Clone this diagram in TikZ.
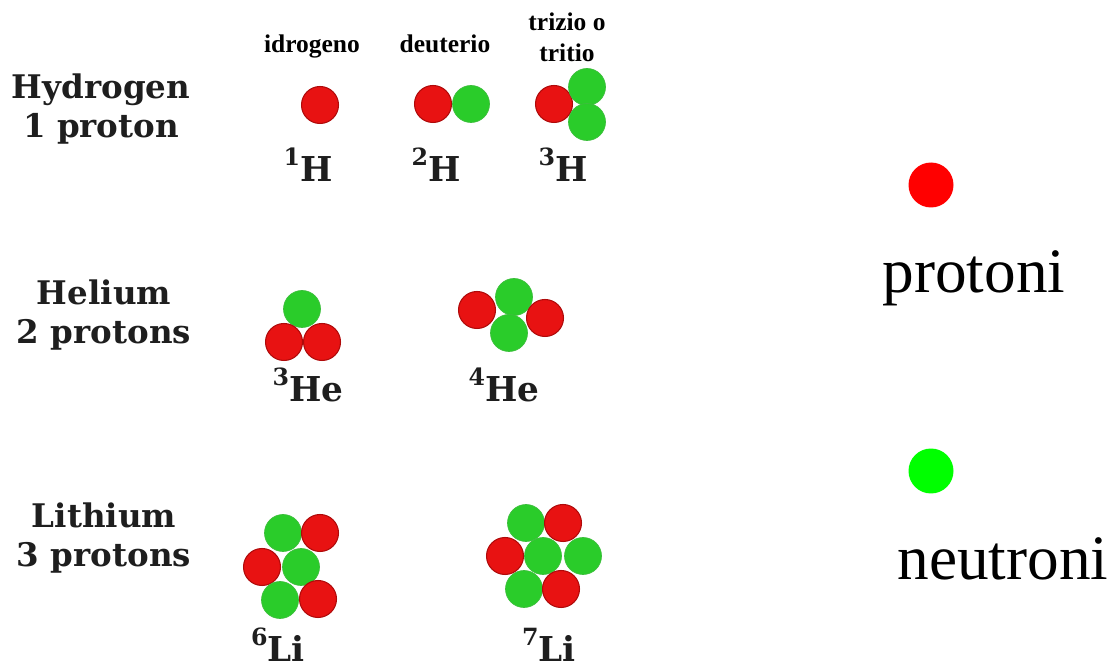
\documentclass[tikz,border=0pt]{standalone}
\usepackage{fontspec}
\setmainfont{Liberation Serif}
\newfontfamily\slabfont{DejaVu Serif}
\usepackage{xcolor}
\usetikzlibrary{positioning}

\definecolor{atomred}{RGB}{232,18,18}
\definecolor{atomgreen}{RGB}{42,204,42}
\definecolor{edgered}{RGB}{175,10,10}
\definecolor{edgegreen}{RGB}{60,190,60}
\definecolor{labelgray}{RGB}{30,30,30}

% isotope symbol with mass number
\newcommand{\isosym}[2]{\raisebox{9.3pt}{\fontsize{13.5}{14}\selectfont #1}#2}

\begin{document}
\begin{tikzpicture}[
    x=0.02cm, y=-0.02cm,
    proton/.style={circle, fill=atomred, draw=edgered, line width=0.6pt,
      inner sep=0pt, minimum size=0.74cm},
    neutron/.style={circle, fill=atomgreen, draw=edgegreen, line width=0.4pt,
      inner sep=0pt, minimum size=0.74cm},
    element/.style={font=\slabfont\bfseries\fontsize{18.5}{22.7}\selectfont,
      text=labelgray, align=center, inner sep=0pt, anchor=base},
    isotope/.style={font=\slabfont\bfseries\fontsize{19.5}{24}\selectfont,
      text=labelgray, inner sep=0pt, anchor=base},
    italname/.style={font=\bfseries\fontsize{14.5}{18}\selectfont,
      align=center, inner sep=0pt, anchor=base},
    legend/.style={font=\fontsize{36}{40}\selectfont, inner sep=0pt, anchor=base},
    legdot/.style={circle, inner sep=0pt, minimum size=0.9cm}
  ]
  \useasboundingbox (0,0) rectangle (1116,668);

  % element names
  \node[element] (hydro) at (101,138) {Hydrogen\\1 proton};
  \node[element] (helium) at (104,344) {Helium\\2 protons};
  \node[element] (lith) at (104,567) {Lithium\\3 protons};

  % italian names
  \node[italname] (idro) at (312,53) {idrogeno};
  \node[italname] (deut) at (445,53) {deuterio};
  \node[italname] (trit) at (567,62) {trizio o\\tritio};

  % hydrogen isotopes
  \node[proton] (h1a) at (320,105) {};
  \node[proton] (h2a) at (433,104) {};
  \node[neutron] (h2b) at (471,104) {};
  \node[proton] (h3a) at (554,104) {};
  \node[neutron] (h3b) at (587,87) {};
  \node[neutron] (h3c) at (587,122) {};
  \node[isotope] (h1) at (308,182) {\isosym{1}{H}};
  \node[isotope] (h2) at (436,182) {\isosym{2}{H}};
  \node[isotope] (h3) at (563,182) {\isosym{3}{H}};

  % helium isotopes
  \node[neutron] (he3a) at (302,309) {};
  \node[proton] (he3b) at (284,342) {};
  \node[proton] (he3c) at (322,342) {};
  \node[neutron] (he4a) at (514,297) {};
  \node[neutron] (he4b) at (509,333) {};
  \node[proton] (he4c) at (477,310) {};
  \node[proton] (he4d) at (545,318) {};
  \node[isotope] (he3) at (308,402) {\isosym{3}{He}};
  \node[isotope] (he4) at (504,402) {\isosym{4}{He}};

  % lithium isotopes
  \node[neutron] (li6a) at (283,533) {};
  \node[proton] (li6b) at (320,533) {};
  \node[proton] (li6c) at (262,567) {};
  \node[neutron] (li6d) at (301,567) {};
  \node[neutron] (li6e) at (280,600) {};
  \node[proton] (li6f) at (318,599) {};
  \node[neutron] (li7a) at (526,523) {};
  \node[proton] (li7b) at (563,523) {};
  \node[proton] (li7c) at (505,556) {};
  \node[neutron] (li7d) at (543,556) {};
  \node[neutron] (li7e) at (583,556) {};
  \node[neutron] (li7f) at (524,589) {};
  \node[proton] (li7g) at (561,589) {};
  \node[isotope] (li6) at (278,662) {\isosym{6}{Li}};
  \node[isotope] (li7) at (549,662) {\isosym{7}{Li}};

  % legend
  \node[legdot, fill=red] (pdot) at (931,185) {};
  \node[legend] (ptext) at (974,293) {protoni};
  \node[legdot, fill=green] (ndot) at (931,471) {};
  \node[legend] (ntext) at (1003,580) {neutroni};
\end{tikzpicture}
\end{document}
